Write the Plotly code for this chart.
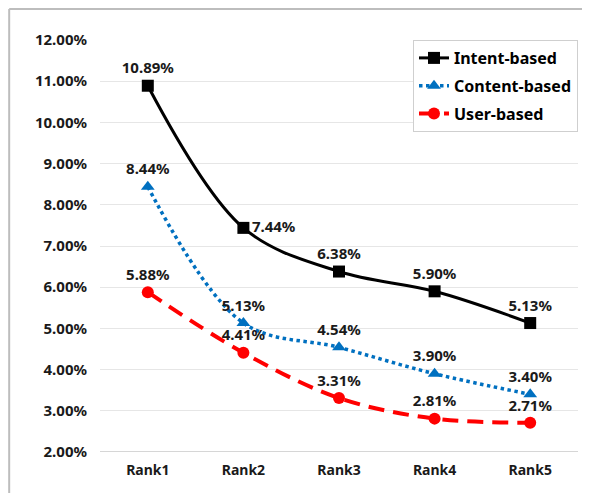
import plotly.graph_objects as go

ranks = ["Rank1", "Rank2", "Rank3", "Rank4", "Rank5"]
intent_based = [0.1089, 0.0744, 0.0638, 0.0590, 0.0513]
content_based = [0.0844, 0.0513, 0.0454, 0.0390, 0.0340]
user_based = [0.0588, 0.0441, 0.0331, 0.0281, 0.0271]

label_font = dict(family="Noto Sans", size=15, color="#1a1a1a", weight="bold")


def pct_labels(values):
    return [f"{v * 100:.2f}%" for v in values]


fig = go.Figure()

fig.add_trace(go.Scatter(
    x=ranks, y=intent_based, name="Intent-based", legendgroup="a",
    mode="lines+markers+text",
    line=dict(color="black", width=3, shape="spline"),
    marker=dict(symbol="square", size=12, color="black"),
    text=pct_labels(intent_based),
    textposition=["top center", "middle right", "top center", "top center", "top center"],
    textfont=label_font,
))

fig.add_trace(go.Scatter(
    x=ranks, y=content_based, name="Content-based", legendgroup="b",
    mode="lines+markers+text",
    line=dict(color="#0070c0", width=3.5, dash="dot", shape="spline"),
    marker=dict(symbol="triangle-up", size=12, color="#0070c0"),
    text=pct_labels(content_based),
    textposition="top center",
    textfont=label_font,
))

fig.add_trace(go.Scatter(
    x=ranks, y=user_based, name="User-based", legendgroup="c",
    mode="lines+markers+text",
    line=dict(color="#ff0000", width=4, dash="16px,9px", shape="spline"),
    marker=dict(symbol="circle", size=12, color="#ff0000"),
    text=pct_labels(user_based),
    textposition="top center",
    textfont=label_font,
))

# outer chart frame: only the left and top edges show in the reference
frame = dict(color="#bdbdbd", width=2)
fig.add_shape(type="line", xref="paper", yref="paper",
              x0=-0.19, x1=-0.19, y0=-0.2, y1=1.075, line=frame)
fig.add_shape(type="line", xref="paper", yref="paper",
              x0=-0.19, x1=1.2, y0=1.075, y1=1.075, line=frame)

# page body has an 8px margin, so the figure is sized to fit inside the window
fig.update_layout(
    width=574, height=485,
    margin=dict(l=92, r=4, t=32, b=41),
    plot_bgcolor="white", paper_bgcolor="white",
    font=dict(family="Noto Sans", size=14, color="#1a1a1a"),
    legend=dict(
        x=1.0, y=1.0, xanchor="right", yanchor="top",
        bordercolor="#cfcfcf", borderwidth=1,
        font=dict(size=16, color="black", weight="bold"),
        bgcolor="white", itemwidth=30, tracegroupgap=4,
    ),
    showlegend=True,
)

fig.update_xaxes(
    range=[-0.5, 4.5], showgrid=False, zeroline=False, automargin=False,
    showline=False, ticks="", ticklabelstandoff=8,
    tickfont=dict(size=14, weight="bold"),
)
fig.update_yaxes(
    range=[0.02, 0.12], dtick=0.01, tickformat=".2%", automargin=False,
    showgrid=True, gridcolor="#e6e6e6", gridwidth=1,
    zeroline=False, showline=False, ticks="", ticklabelstandoff=12,
    tickfont=dict(size=15, weight="bold"),
)
fig.add_hline(y=0.02, line=dict(color="#c8c8c8", width=1.5))

fig.write_html("out.html")
